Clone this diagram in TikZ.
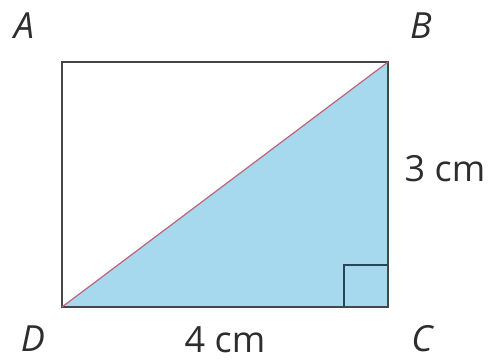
\documentclass[tikz,border=0pt]{standalone}
\usepackage{fontspec}
\setmainfont{Open Sans}
\definecolor{triblue}{RGB}{166,216,238}
\definecolor{diagred}{RGB}{190,100,120}
\definecolor{edgegray}{RGB}{70,70,70}
\definecolor{sqedge}{RGB}{40,70,90}
\definecolor{labgray}{RGB}{45,45,45}
\begin{document}
\begin{tikzpicture}[x=1pt,y=-1pt,
  vlabel/.style={font=\fontsize{36}{42}\selectfont\itshape, text=labgray, inner sep=0pt},
  mlabel/.style={font=\fontsize{36}{42}\selectfont, text=labgray, inner sep=0pt, text depth=0pt, anchor=base},
  side/.style={draw=edgegray, line width=1.4pt},
  diag/.style={draw=diagred, line width=1.2pt}]
\useasboundingbox (0,0) rectangle (492,363);
\coordinate (A) at (62,62);
\coordinate (B) at (388,62);
\coordinate (C) at (388,307);
\coordinate (D) at (62,307);
\coordinate (S1) at (344,307);
\coordinate (S2) at (344,265);
\coordinate (S3) at (388,265);
\fill[triblue] (D) -- (B) -- (C) -- cycle;
\draw[side] (A) -- (B) -- (C) -- (D) -- cycle;
\draw[draw=sqedge, line width=1.4pt] (S1) -- (S2) -- (S3);
\draw[diag, line cap=round] (D) -- (B);
\node[vlabel] (lA) at (24,26) {A};
\node[vlabel] (lB) at (421,26) {B};
\node[vlabel] (lC) at (422,339) {C};
\node[vlabel] (lD) at (33,339) {D};
\node[mlabel] (l3) at (445,182) {3 cm};
\node[mlabel] (l4) at (225,352) {4 cm};
\end{tikzpicture}
\end{document}
